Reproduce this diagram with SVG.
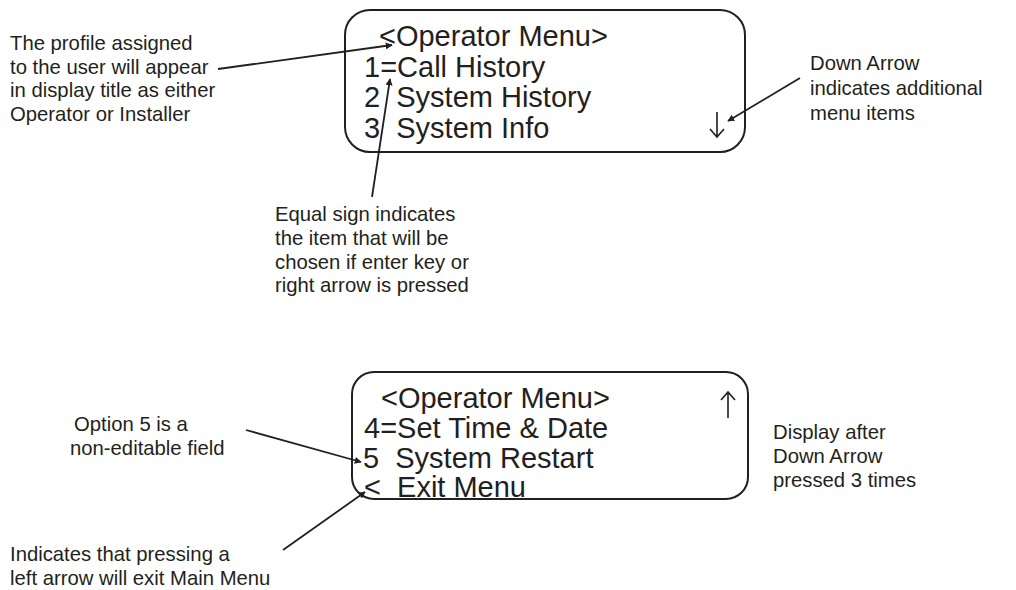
<svg xmlns="http://www.w3.org/2000/svg" width="1016" height="590" viewBox="0 0 1016 590">
<style>
.box{fill:none;stroke:#231f20;stroke-width:2}
.disp{font-family:"Liberation Sans",Arial,sans-serif;font-size:29px;fill:#231f20;white-space:pre}
.sym{fill:none;stroke:#231f20;stroke-width:1.6;stroke-linejoin:miter}
.note{font-family:"Liberation Sans",Arial,sans-serif;font-size:20.3px;fill:#231f20}
.lead{stroke:#231f20;stroke-width:1.8;fill:none;marker-end:url(#ah)}
</style>
<defs>
<marker id="ah" viewBox="0 0 10 10" refX="9" refY="5" markerWidth="7" markerHeight="7" markerUnits="userSpaceOnUse" orient="auto">
<path d="M0,0 L10,5 L0,10 z" fill="#231f20"/>
</marker>
</defs>
<rect width="1016" height="590" fill="#fff"/>
<g id="display1">
<rect class="box" x="345" y="10" width="400" height="142" rx="25" ry="25"/>
<text class="disp" x="379" y="46">&lt;Operator Menu&gt;</text>
<text class="disp" x="364" y="77" xml:space="preserve">1=Call History</text>
<text class="disp" x="364" y="107" xml:space="preserve">2  System History</text>
<text class="disp" x="364" y="138" xml:space="preserve">3  System Info</text>
<path class="sym" d="M717,112 V137 M710,129 L717,137 L724,129"/>
</g>
<g id="display2">
<rect class="box" x="352" y="372" width="396" height="127" rx="22" ry="22"/>
<text class="disp" x="381" y="408">&lt;Operator Menu&gt;</text>
<text class="disp" x="364" y="438" xml:space="preserve">4=Set Time &amp; Date</text>
<text class="disp" x="363" y="468" xml:space="preserve">5  System Restart</text>
<text class="disp" x="364" y="497" xml:space="preserve">&lt;  Exit Menu</text>
<path class="sym" d="M728,418 V392 M721,400 L728,392 L735,400"/>
</g>
<g id="note-profile">
<text class="note" x="10" y="50">The profile assigned</text>
<text class="note" x="10" y="73.5">to the user will appear</text>
<text class="note" x="10" y="97">in display title as either</text>
<text class="note" x="10" y="120.5">Operator or Installer</text>
</g>
<g id="note-equal">
<text class="note" x="275" y="221">Equal sign indicates</text>
<text class="note" x="275" y="245">the item that will be</text>
<text class="note" x="275" y="268.5">chosen if enter key or</text>
<text class="note" x="275" y="292">right arrow is pressed</text>
</g>
<g id="note-down">
<text class="note" x="810" y="70">Down Arrow</text>
<text class="note" x="810" y="95">indicates additional</text>
<text class="note" x="810" y="120">menu items</text>
</g>
<g id="note-option5">
<text class="note" x="74" y="431">Option 5 is a</text>
<text class="note" x="70" y="455">non-editable field</text>
</g>
<g id="note-display-after">
<text class="note" x="773" y="439">Display after</text>
<text class="note" x="773" y="463">Down Arrow</text>
<text class="note" x="773" y="487">pressed 3 times</text>
</g>
<g id="note-left">
<text class="note" x="10" y="561">Indicates that pressing a</text>
<text class="note" x="10" y="585">left arrow will exit Main Menu</text>
</g>
<g id="connectors">
<line class="lead" x1="218" y1="69" x2="392" y2="45"/>
<line class="lead" x1="372" y1="197" x2="390" y2="79"/>
<line class="lead" x1="800" y1="78" x2="728" y2="121"/>
<line class="lead" x1="246" y1="430" x2="361" y2="462"/>
<line class="lead" x1="283" y1="550" x2="365" y2="492"/>
</g>
</svg>
